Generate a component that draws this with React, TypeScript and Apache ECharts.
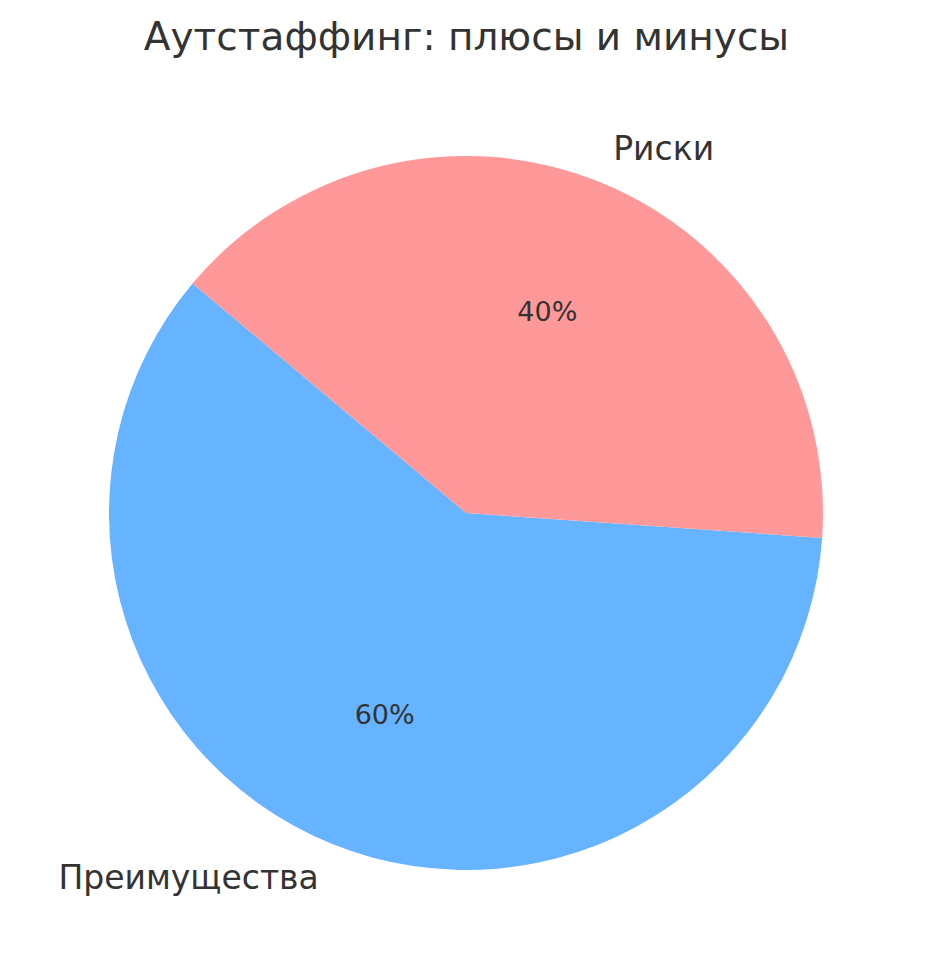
import React, { useEffect, useRef } from "react";
import * as echarts from "echarts";

const categories = ["Преимущества", "Риски"];
const shares = [60, 40];
const colors = ["#66b3ff", "#ff9999"];

const App: React.FC = () => {
  const chartRef = useRef<HTMLDivElement>(null);

  useEffect(() => {
    if (!chartRef.current) return;
    document.body.style.margin = "0";
    const chart = echarts.init(chartRef.current, null, { renderer: "svg" });

    const pieData = categories.map((name, i) => ({
      name,
      value: shares[i],
      itemStyle: { color: colors[i] },
    }));

    const center = [466, 513];
    const radius = 357;

    const option = {
      animation: false,
      backgroundColor: "#ffffff",
      textStyle: { fontFamily: "DejaVu Sans" },
      title: {
        text: "Аутстаффинг: плюсы и минусы",
        left: "center",
        top: 12,
        textStyle: {
          fontSize: 39,
          fontWeight: "normal",
          color: "#333333",
          fontFamily: "DejaVu Sans",
        },
      },
      series: [
        {
          // slices with category labels outside
          type: "pie",
          center,
          radius,
          startAngle: 140,
          clockwise: false,
          avoidLabelOverlap: false,
          silent: true,
          label: {
            show: true,
            position: "outside",
            formatter: "{b}",
            fontSize: 33,
            color: "#333333",
            fontFamily: "DejaVu Sans",
            distanceToLabelLine: 0,
          },
          labelLine: { show: false, length: 36, length2: 0 },
          emphasis: { disabled: true },
          data: pieData,
        },
        {
          // invisible ring used to place percentage labels at 0.6 r
          type: "pie",
          center,
          radius: [radius * 0.6 - 14, radius * 0.6 + 14],
          startAngle: 140,
          clockwise: false,
          silent: true,
          itemStyle: { color: "transparent" },
          label: {
            show: true,
            position: "inside",
            formatter: (p: any) => Math.round(p.percent) + "%",
            fontSize: 27,
            color: "#333333",
            fontFamily: "DejaVu Sans",
          },
          labelLine: { show: false },
          emphasis: { disabled: true },
          data: pieData.map((d) => ({ ...d, itemStyle: { color: "transparent" } })),
        },
      ],
    };

    chart.setOption(option);
    return () => {
      chart.dispose();
    };
  }, []);

  return <div ref={chartRef} style={{ width: "933px", height: "980px" }} />;
};

export default App;
